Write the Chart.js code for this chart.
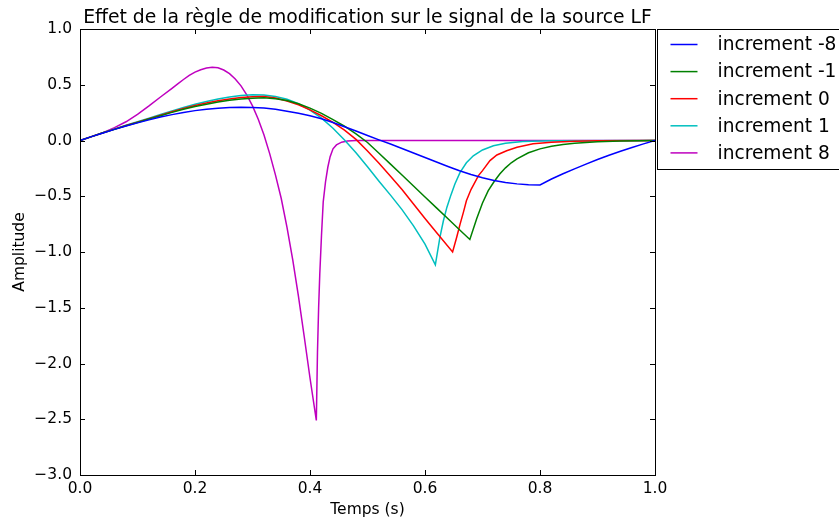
<!DOCTYPE html>
<html lang="fr">
<head>
<meta charset="utf-8">
<title>Effet de la règle de modification</title>
<script src="https://cdn.jsdelivr.net/npm/chart.js@4.4.1/dist/chart.umd.min.js"></script>
<style>
    html, body { margin: 0; padding: 0; background: #ffffff; }
    #wrap { width: 839px; height: 519px; position: relative; }
</style>
</head>
<body>
<div id="wrap"><canvas id="signalChart" width="839" height="519"></canvas></div>
<script>
// Data
const chartTitle = 'Effet de la règle de modification sur le signal de la source LF';
const xTitle = 'Temps (s)';
const yTitle = 'Amplitude';
const seriesLabels = ['increment -8', 'increment -1', 'increment 0', 'increment 1', 'increment 8'];
const seriesColors = ['#0000ff', '#008000', '#ff0000', '#00bfbf', '#bf00bf'];
const xTicks = [0, 0.2, 0.4, 0.6, 0.8, 1.0];
const yTicks = [-3.0, -2.5, -2.0, -1.5, -1.0, -0.5, 0.0, 0.5, 1.0];

// increment -8
const tMinus8 = [0, 0.02, 0.04, 0.06, 0.08, 0.10, 0.12, 0.14, 0.16, 0.18, 0.20, 0.22, 0.24, 0.26, 0.28, 0.30, 0.32, 0.34, 0.36, 0.38, 0.40, 0.42, 0.44, 0.46, 0.48, 0.50, 0.52, 0.54, 0.56, 0.58, 0.60, 0.62, 0.64, 0.66, 0.68, 0.70, 0.72, 0.74, 0.76, 0.78, 0.80, 0.82, 0.84, 0.86, 0.88, 0.90, 0.92, 0.94, 0.96, 0.98, 1.0];
const yMinus8 = [0, 0.035, 0.068, 0.1, 0.13, 0.158, 0.185, 0.21, 0.232, 0.252, 0.268, 0.281, 0.29, 0.296, 0.298, 0.297, 0.292, 0.28, 0.262, 0.245, 0.222, 0.195, 0.161, 0.124, 0.085, 0.045, 0.006, -0.032, -0.072, -0.112, -0.153, -0.193, -0.233, -0.271, -0.305, -0.334, -0.358, -0.377, -0.389, -0.396, -0.398, -0.345, -0.298, -0.255, -0.212, -0.17, -0.132, -0.096, -0.062, -0.03, 0];

// increment -1
const tMinus1 = [0, 0.02, 0.04, 0.06, 0.08, 0.10, 0.12, 0.14, 0.16, 0.18, 0.20, 0.22, 0.24, 0.26, 0.28, 0.30, 0.32, 0.34, 0.36, 0.38, 0.40, 0.42, 0.44, 0.46, 0.48, 0.50, 0.52, 0.54, 0.56, 0.58, 0.60, 0.62, 0.64, 0.66, 0.678, 0.69, 0.70, 0.71, 0.72, 0.73, 0.74, 0.75, 0.76, 0.78, 0.80, 0.82, 0.84, 0.86, 0.88, 0.90, 0.94, 1.0];
const yMinus1 = [0, 0.035, 0.07, 0.1, 0.132, 0.162, 0.192, 0.222, 0.252, 0.28, 0.305, 0.326, 0.345, 0.36, 0.372, 0.38, 0.383, 0.375, 0.358, 0.33, 0.29, 0.243, 0.188, 0.128, 0.06, -0.018, -0.115, -0.212, -0.31, -0.408, -0.506, -0.604, -0.702, -0.8, -0.888, -0.70, -0.56, -0.45, -0.37, -0.30, -0.245, -0.2, -0.165, -0.11, -0.075, -0.052, -0.036, -0.025, -0.017, -0.011, -0.005, 0];

// increment 0
const tZero = [0, 0.02, 0.04, 0.06, 0.08, 0.10, 0.12, 0.14, 0.16, 0.18, 0.20, 0.22, 0.24, 0.26, 0.28, 0.30, 0.32, 0.34, 0.36, 0.38, 0.40, 0.42, 0.44, 0.46, 0.48, 0.50, 0.52, 0.54, 0.56, 0.58, 0.60, 0.62, 0.648, 0.655, 0.661, 0.667, 0.672, 0.68, 0.693, 0.70, 0.713, 0.725, 0.742, 0.76, 0.788, 0.82, 0.86, 0.90, 1.0];
const yZero = [0, 0.035, 0.07, 0.102, 0.134, 0.165, 0.196, 0.227, 0.258, 0.287, 0.313, 0.336, 0.356, 0.372, 0.385, 0.393, 0.395, 0.382, 0.355, 0.32, 0.275, 0.222, 0.162, 0.093, 0.01, -0.095, -0.205, -0.32, -0.44, -0.57, -0.70, -0.825, -1.0, -0.87, -0.75, -0.64, -0.54, -0.44, -0.315, -0.27, -0.18, -0.13, -0.092, -0.06, -0.03, -0.015, -0.007, -0.003, 0];

// increment 1
const tPlus1 = [0, 0.02, 0.04, 0.06, 0.08, 0.10, 0.12, 0.14, 0.16, 0.18, 0.20, 0.22, 0.24, 0.26, 0.28, 0.30, 0.32, 0.34, 0.36, 0.38, 0.40, 0.42, 0.44, 0.46, 0.48, 0.50, 0.52, 0.54, 0.56, 0.58, 0.60, 0.618, 0.626, 0.632, 0.638, 0.645, 0.652, 0.661, 0.672, 0.684, 0.70, 0.719, 0.74, 0.77, 0.82, 1.0];
const yPlus1 = [0, 0.035, 0.07, 0.103, 0.136, 0.168, 0.2, 0.233, 0.265, 0.296, 0.325, 0.35, 0.372, 0.39, 0.403, 0.41, 0.408, 0.395, 0.37, 0.33, 0.272, 0.2, 0.11, 0.005, -0.11, -0.235, -0.365, -0.49, -0.62, -0.765, -0.93, -1.115, -0.867, -0.72, -0.6, -0.49, -0.39, -0.286, -0.2, -0.137, -0.085, -0.047, -0.025, -0.01, -0.003, 0];

// increment 8
const tPlus8 = [0, 0.02, 0.04, 0.06, 0.08, 0.10, 0.12, 0.14, 0.16, 0.17, 0.18, 0.19, 0.20, 0.21, 0.22, 0.23, 0.24, 0.25, 0.26, 0.27, 0.28, 0.29, 0.30, 0.31, 0.32, 0.33, 0.34, 0.35, 0.36, 0.37, 0.38, 0.39, 0.40, 0.411, 0.413, 0.415, 0.417, 0.42, 0.423, 0.427, 0.431, 0.435, 0.44, 0.446, 0.455, 0.465, 0.48, 1.0];
const yPlus8 = [0, 0.035, 0.07, 0.115, 0.168, 0.235, 0.31, 0.39, 0.468, 0.508, 0.547, 0.584, 0.613, 0.635, 0.65, 0.657, 0.652, 0.632, 0.6, 0.552, 0.49, 0.41, 0.31, 0.19, 0.05, -0.12, -0.31, -0.52, -0.78, -1.07, -1.4, -1.76, -2.13, -2.51, -1.9, -1.5, -1.2, -0.85, -0.55, -0.37, -0.24, -0.145, -0.075, -0.04, -0.015, -0.005, 0, 0];

const seriesTimes = [tMinus8, tMinus1, tZero, tPlus1, tPlus8];
const seriesValues = [yMinus8, yMinus1, yZero, yPlus1, yPlus8];

const baseFont = 'DejaVu Sans';

document.addEventListener('DOMContentLoaded', function() {
    initializeChart();
});

function buildDatasets() {
    return seriesLabels.map((label, i) => ({
        label: label,
        data: seriesTimes[i].map((t, j) => ({ x: t, y: seriesValues[i][j] })),
        borderColor: seriesColors[i],
        backgroundColor: seriesColors[i],
        borderWidth: 1.5,
        pointRadius: 0,
        tension: 0,
        fill: false
    }));
}

function formatTick(value) {
    const s = Math.abs(value).toFixed(1);
    return value < -1e-9 ? '\u2212' + s : s;
}

// frame, inward ticks, title and the legend box outside the axes
const framePlugin = {
    id: 'frame',
    afterDatasetsDraw(chart) {
        const ctx = chart.ctx;
        const area = chart.chartArea;
        const xs = chart.scales.x;
        const ys = chart.scales.y;
        const tick = 5;

        ctx.save();
        ctx.strokeStyle = '#000000';
        ctx.lineWidth = 1;
        ctx.beginPath();
        xTicks.forEach(v => {
            const px = Math.round(xs.getPixelForValue(v)) + 0.5;
            ctx.moveTo(px, area.bottom);
            ctx.lineTo(px, area.bottom - tick);
            ctx.moveTo(px, area.top);
            ctx.lineTo(px, area.top + tick);
        });
        yTicks.forEach(v => {
            const py = Math.round(ys.getPixelForValue(v)) + 0.5;
            ctx.moveTo(area.left, py);
            ctx.lineTo(area.left + tick, py);
            ctx.moveTo(area.right, py);
            ctx.lineTo(area.right - tick, py);
        });
        ctx.stroke();
        ctx.strokeRect(Math.round(area.left) + 0.5, Math.round(area.top) + 0.5,
            Math.round(area.right - area.left), Math.round(area.bottom - area.top));

        // title
        ctx.fillStyle = '#000000';
        ctx.font = '18.8px "' + baseFont + '"';
        ctx.textAlign = 'center';
        ctx.textBaseline = 'alphabetic';
        ctx.fillText(chartTitle, (area.left + area.right) / 2, 23);

        // legend
        const boxLeft = area.right + 2.5;
        const boxTop = area.top + 0.5;
        ctx.fillStyle = '#ffffff';
        ctx.fillRect(boxLeft, boxTop, 200, 140);
        ctx.strokeRect(boxLeft, boxTop, 200, 140);
        ctx.font = '18.6px "' + baseFont + '"';
        ctx.textAlign = 'left';
        ctx.textBaseline = 'middle';
        seriesLabels.forEach((label, i) => {
            const rowY = boxTop + 15 + i * 27.1;
            ctx.strokeStyle = seriesColors[i];
            ctx.lineWidth = 1.5;
            ctx.beginPath();
            ctx.moveTo(boxLeft + 13, rowY);
            ctx.lineTo(boxLeft + 40, rowY);
            ctx.stroke();
            ctx.fillStyle = '#000000';
            ctx.fillText(label, boxLeft + 60, rowY + 1);
        });
        ctx.restore();
    }
};

function initializeChart() {
    const ctx = document.getElementById('signalChart').getContext('2d');

    const config = {
        type: 'line',
        data: { datasets: buildDatasets() },
        options: {
            responsive: false,
            animation: false,
            devicePixelRatio: 1,
            layout: { padding: { top: 29, right: 184, left: 0, bottom: 0 } },
            plugins: {
                legend: { display: false },
                title: { display: false },
                tooltip: { enabled: false }
            },
            scales: {
                x: {
                    type: 'linear',
                    min: 0,
                    max: 1,
                    afterBuildTicks: scale => { scale.ticks = xTicks.map(v => ({ value: v })); },
                    afterFit: scale => { scale.height = 44; },
                    grid: { display: false, drawTicks: false },
                    border: { display: false },
                    ticks: {
                        color: '#000000',
                        font: { family: baseFont, size: 15.5 },
                        padding: 5,
                        maxRotation: 0,
                        callback: value => formatTick(value)
                    },
                    title: {
                        display: true,
                        text: xTitle,
                        color: '#000000',
                        font: { family: baseFont, size: 15.5 },
                        padding: { top: 0, bottom: 0 }
                    }
                },
                y: {
                    type: 'linear',
                    min: -3,
                    max: 1,
                    afterBuildTicks: scale => { scale.ticks = yTicks.map(v => ({ value: v })); },
                    afterFit: scale => { scale.width = 80; },
                    grid: { display: false, drawTicks: false },
                    border: { display: false },
                    ticks: {
                        color: '#000000',
                        font: { family: baseFont, size: 15.5 },
                        padding: 8,
                        callback: value => formatTick(value)
                    },
                    title: {
                        display: true,
                        text: yTitle,
                        color: '#000000',
                        font: { family: baseFont, size: 15.5 },
                        padding: { top: 11, bottom: 0 }
                    }
                }
            }
        },
        plugins: [framePlugin]
    };

    new Chart(ctx, config);
}
</script>
</body>
</html>
